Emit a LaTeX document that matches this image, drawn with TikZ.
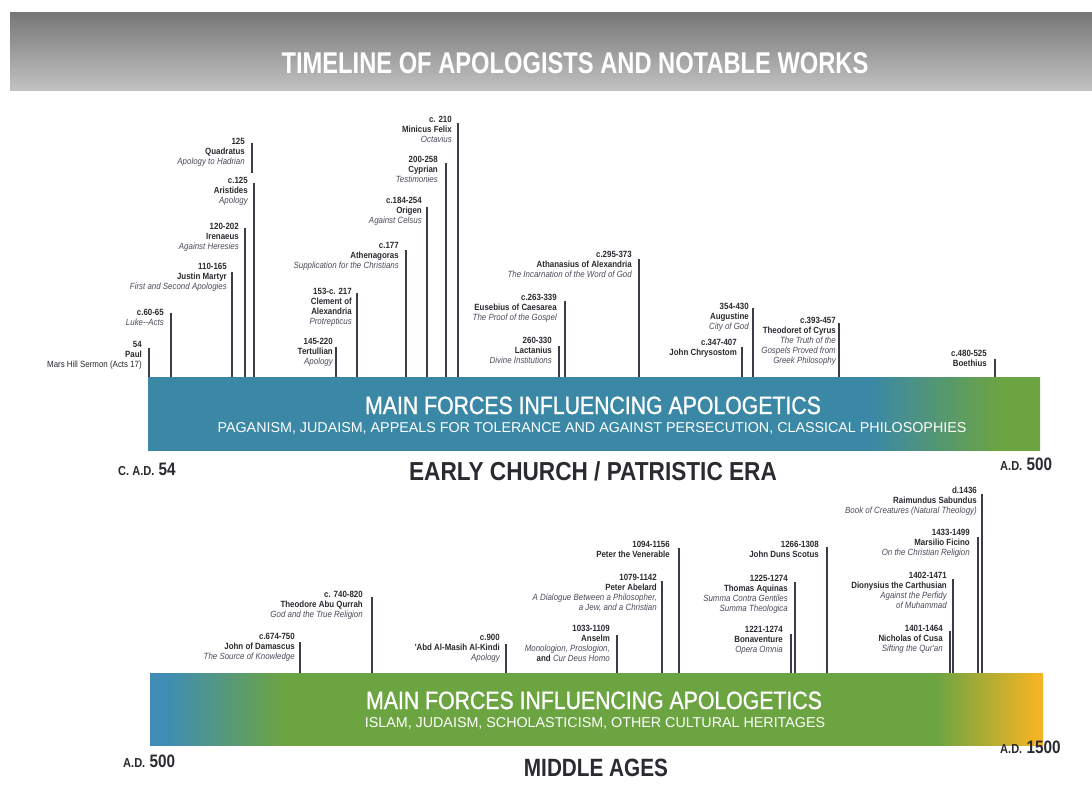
\documentclass[tikz,border=0pt]{standalone}
\usepackage{fontspec}
\setmainfont{Liberation Sans}
\newfontfamily\cond[FakeStretch=0.88]{Liberation Sans}
\newfontfamily\condb[FakeStretch=0.85,FakeBold=1]{Liberation Sans}
\newfontfamily\condh[FakeStretch=0.87]{Liberation Sans}
\newfontfamily\condm[FakeStretch=0.83]{Liberation Sans}
\newfontfamily\condt[FakeStretch=0.79]{Liberation Sans}
\newfontfamily\conde[FakeStretch=0.85]{Liberation Sans}
\usetikzlibrary{calc}
\definecolor{ink}{HTML}{2A2A30}
\definecolor{inkit}{HTML}{4A4A5A}
\definecolor{tickc}{HTML}{3C3C48}
\definecolor{bblue}{HTML}{3A88A6}
\definecolor{bblue2}{HTML}{3F8CB6}
\definecolor{bgreen}{HTML}{6CA442}
\definecolor{byellow}{HTML}{F2B424}
\definecolor{bandtop}{HTML}{767676}
\definecolor{bandbot}{HTML}{C2C2C2}
\pgfdeclarehorizontalshading{topbarshade}{100bp}{color(0bp)=(bblue); color(65.5bp)=(bblue); color(72.8bp)=(bgreen); color(100bp)=(bgreen)}
\pgfdeclarehorizontalshading{lowbarshade}{100bp}{color(0bp)=(bblue2); color(25.8bp)=(bblue2); color(32.5bp)=(bgreen); color(69bp)=(bgreen); color(74.6bp)=(byellow); color(100bp)=(byellow)}
\newcommand\dt[1]{\textbf{#1}}
\newcommand\nm[1]{\textbf{#1}}
\newcommand\wk[1]{{\itshape\color{inkit}#1}}
\newcommand\apol[7]{%
  \coordinate (#1-top) at (#3,#4);
  \node[lbl] (#1) at (#5,#6-3.5) {#7};
  \draw[tick] (#1-top) -- (#1-top |- #2.north);
}
\tikzset{
  lbl/.style={anchor=north east, inner sep=0pt, align=right, text=ink,
    font=\cond\fontsize{9}{10}\selectfont},
  tick/.style={draw=tickc, line width=1.2pt},
  bartitle/.style={anchor=base, inner sep=0pt, text=white, font=\condb\fontsize{25}{25}\selectfont},
  barsub/.style={anchor=base, inner sep=0pt, text=white, font=\fontsize{14.3}{15}\selectfont},
  era/.style={anchor=base, inner sep=0pt, text=ink},
  endlbl/.style={anchor=base west, inner sep=0pt, text=ink, font=\conde\bfseries\fontsize{18}{18}\selectfont},
}
\newcommand\ad[1]{{\fontsize{13}{13}\selectfont #1}}
\begin{document}
\begin{tikzpicture}[x=1pt,y=-1pt]
\useasboundingbox (0,0) rectangle (1092,798);
\fill[white] (0,0) rectangle (1092,798);
% title band
\shade[top color=bandtop, bottom color=bandbot] (10,12) rectangle (1092,90);
\node[anchor=base, inner sep=0pt, text=white, font=\condt\bfseries\fontsize{30}{30}\selectfont] (title) at (575,73) {TIMELINE OF APOLOGISTS AND NOTABLE WORKS};

% upper bar
\node[shade, shading=topbarshade, inner sep=0pt, minimum width=892pt, minimum height=73pt] (bar1) at (594,413.5) {};
\node[bartitle] (bar1t) at (593,414) {MAIN FORCES INFLUENCING APOLOGETICS};
\node[barsub] (bar1s) at (592,432.5) {PAGANISM, JUDAISM, APPEALS FOR TOLERANCE AND AGAINST PERSECUTION, CLASSICAL PHILOSOPHIES};
\node[endlbl] (start1) at (118,475) {\ad{C. A.D.} 54};
\node[era, font=\condh\bfseries\fontsize{26}{26}\selectfont] (era1) at (593,480) {EARLY CHURCH / PATRISTIC ERA};
\node[endlbl] (end1) at (1000,470) {\ad{A.D.} 500};

% lower bar
\node[shade, shading=lowbarshade, inner sep=0pt, minimum width=893pt, minimum height=72pt] (bar2) at (596.5,709) {};
\node[bartitle] (bar2t) at (594,709) {MAIN FORCES INFLUENCING APOLOGETICS};
\node[barsub] (bar2s) at (595,727.5) {ISLAM, JUDAISM, SCHOLASTICISM, OTHER CULTURAL HERITAGES};
\node[endlbl] (start2) at (123,767) {\ad{A.D.} 500};
\node[era, font=\condm\bfseries\fontsize{25}{25}\selectfont] (era2) at (596,776) {MIDDLE AGES};
\node[endlbl] (end2) at (1000,753) {\ad{A.D.} 1500};

% upper timeline entries
\apol{paul}{bar1}{149}{348}{142}{345}{\dt{54}\\\nm{Paul}\\Mars Hill Sermon (Acts 17)}
\apol{luke}{bar1}{171}{313}{164}{313}{\dt{c.60-65}\\\wk{Luke--Acts}}
\apol{justin}{bar1}{232}{272}{227}{267}{\dt{110-165}\\\nm{Justin Martyr}\\\wk{First and Second Apologies}}
\apol{iren}{bar1}{245}{228}{239}{227}{\dt{120-202}\\\nm{Irenaeus}\\\wk{Against Heresies}}
\coordinate (quad-top) at (252,143);
\coordinate (quad-bot) at (252,173);
\node[lbl] (quad) at (245,138.5) {\dt{125}\\\nm{Quadratus}\\\wk{Apology to Hadrian}};
\draw[tick] (quad-top) -- (quad-bot);
\apol{arist}{bar1}{254}{183}{248}{181}{\dt{c.125}\\\nm{Aristides}\\\wk{Apology}}
\apol{tert}{bar1}{336}{347}{333}{342}{\dt{145-220}\\\nm{Tertullian}\\\wk{Apology}}
\apol{clem}{bar1}{357}{293}{352}{292}{\dt{153-c. 217}\\\nm{Clement of}\\\nm{Alexandria}\\\wk{Protrepticus}}
\apol{athen}{bar1}{406}{250}{399}{246}{\dt{c.177}\\\nm{Athenagoras}\\\wk{Supplication for the Christians}}
\apol{origen}{bar1}{427}{207}{422}{201}{\dt{c.184-254}\\\nm{Origen}\\\wk{Against Celsus}}
\apol{cypr}{bar1}{446}{163}{438}{160}{\dt{200-258}\\\nm{Cyprian}\\\wk{Testimonies}}
\apol{minic}{bar1}{458}{123}{452}{120}{\dt{c. 210}\\\nm{Minicus Felix}\\\wk{Octavius}}
\apol{athan}{bar1}{639}{259}{632}{255}{\dt{c.295-373}\\\nm{Athanasius of Alexandria}\\\wk{The Incarnation of the Word of God}}
\apol{euseb}{bar1}{565}{301}{557}{298}{\dt{c.263-339}\\\nm{Eusebius of Caesarea}\\\wk{The Proof of the Gospel}}
\apol{lact}{bar1}{559}{346}{552}{341}{\dt{260-330}\\\nm{Lactanius}\\\wk{Divine Institutions}}
\apol{aug}{bar1}{753}{308}{749}{307}{\dt{354-430}\\\nm{Augustine}\\\wk{City of God}}
\apol{chrys}{bar1}{742}{347}{737}{343}{\dt{c.347-407}\\\nm{John Chrysostom}}
\apol{theod}{bar1}{839}{323}{836}{321}{\dt{c.393-457}\\\nm{Theodoret of Cyrus}\\\wk{The Truth of the}\\\wk{Gospels Proved from}\\\wk{Greek Philosophy}}
\apol{boeth}{bar1}{995}{359}{987}{354}{\dt{c.480-525}\\\nm{Boethius}}

% lower timeline entries
\apol{damasc}{bar2}{300}{642}{295}{637}{\dt{c.674-750}\\\nm{John of Damascus}\\\wk{The Source of Knowledge}}
\apol{qurrah}{bar2}{372}{597}{363}{595}{\dt{c. 740-820}\\\nm{Theodore Abu Qurrah}\\\wk{God and the True Religion}}
\apol{kindi}{bar2}{506}{644}{500}{638}{\dt{c.900}\\\nm{'Abd Al-Masih Al-Kindi}\\\wk{Apology}}
\apol{anselm}{bar2}{617}{635}{610}{629}{\dt{1033-1109}\\\nm{Anselm}\\\wk{Monologion, Proslogion,}\\\nm{and} \wk{Cur Deus Homo}}
\apol{abelard}{bar2}{662}{581}{657}{578}{\dt{1079-1142}\\\nm{Peter Abelard}\\\wk{A Dialogue Between a Philosopher,}\\\wk{a Jew, and a Christian}}
\apol{vener}{bar2}{679}{548}{670}{545}{\dt{1094-1156}\\\nm{Peter the Venerable}}
\apol{bonav}{bar2}{791}{634}{783}{630}{\dt{1221-1274}\\\nm{Bonaventure}\\\wk{Opera Omnia}}
\apol{aquin}{bar2}{795}{582}{788}{579}{\dt{1225-1274}\\\nm{Thomas Aquinas}\\\wk{Summa Contra Gentiles}\\\wk{Summa Theologica}}
\apol{scotus}{bar2}{827}{547}{819}{545}{\dt{1266-1308}\\\nm{John Duns Scotus}}
\apol{cusa}{bar2}{950}{631}{943}{629}{\dt{1401-1464}\\\nm{Nicholas of Cusa}\\\wk{Sifting the Qur'an}}
\apol{dionys}{bar2}{953}{579}{947}{576}{\dt{1402-1471}\\\nm{Dionysius the Carthusian}\\\wk{Against the Perfidy}\\\wk{of Muhammad}}
\apol{ficino}{bar2}{978}{537}{970}{533}{\dt{1433-1499}\\\nm{Marsilio Ficino}\\\wk{On the Christian Religion}}
\apol{sabund}{bar2}{982}{494}{977}{490}{\dt{d.1436}\\\nm{Raimundus Sabundus}\\\wk{Book of Creatures (Natural Theology)}}
\end{tikzpicture}
\end{document}
